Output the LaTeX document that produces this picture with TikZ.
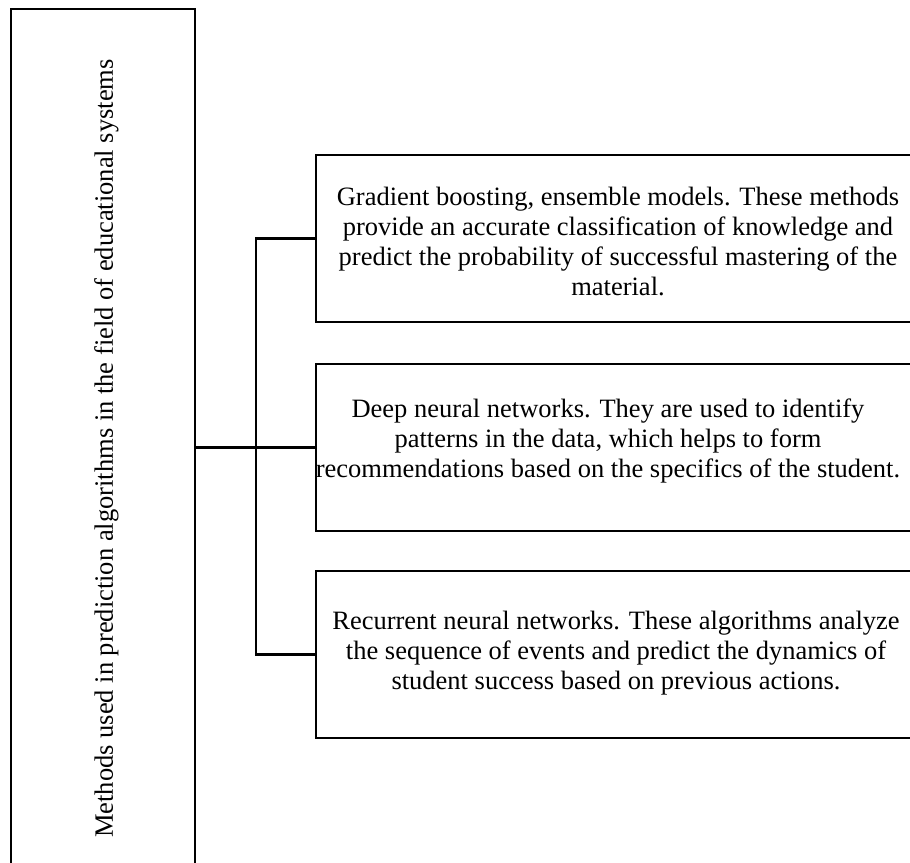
\documentclass[tikz,border=0pt]{standalone}
\usepackage{fontspec}
\setmainfont{Liberation Serif}
\begin{document}
\begin{tikzpicture}[x=1pt,y=-1pt,
  frame/.style={draw=black, line width=2pt, inner sep=0pt},
  link/.style={draw=black, line width=2.2pt},
  boxtext/.style={align=center, inner sep=0pt, font=\fontsize{26.5}{30}\selectfont}]
\useasboundingbox (0,0) rectangle (910,862);
\node[frame, minimum width=184pt, minimum height=868pt] (main) at (103,443) {};
\node[boxtext, rotate=90] (maintext) at (106.5,448.5) {Methods used in prediction algorithms in the field of educational systems};
\node[frame, minimum width=604pt, minimum height=167pt] (b1) at (618,238.5) {};
\node[frame, minimum width=604pt, minimum height=167pt] (b2) at (618,447.5) {};
\node[frame, minimum width=604pt, minimum height=167pt] (b3) at (618,654.5) {};
\node[boxtext] (t1) at (618,241) {Gradient boosting, ensemble models. These methods\\provide an accurate classification of knowledge and\\predict the probability of successful mastering of the\\material.};
\node[boxtext] (t2) at (608,441) {Deep neural networks. They are used to identify\\patterns in the data, which helps to form\\recommendations based on the specifics of the student.};
\node[boxtext] (t3) at (616,653) {Recurrent neural networks. These algorithms analyze\\the sequence of events and predict the dynamics of\\student success based on previous actions.};
\coordinate (spine) at (256,447.5);
\draw[link] (b1.west) -| (spine) |- (b3.west);
\draw[link] (main.east |- b2.west) -- (b2.west);
\end{tikzpicture}
\end{document}
